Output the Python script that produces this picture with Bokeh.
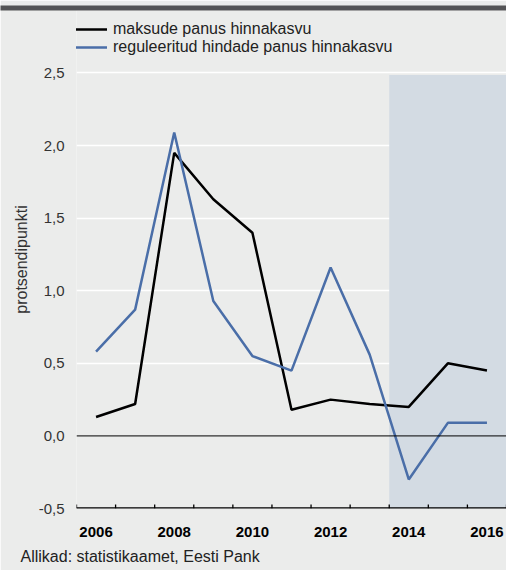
from bokeh.plotting import figure
from bokeh.models import (Range1d, FixedTicker, Legend, LegendItem, BoxAnnotation,
                          Span, Title, CustomJSTickFormatter)
from bokeh.embed import file_html
from bokeh.resources import INLINE

years = [2006, 2007, 2008, 2009, 2010, 2011, 2012, 2013, 2014, 2015, 2016]
tax_contribution = [0.13, 0.22, 1.95, 1.63, 1.40, 0.18, 0.25, 0.22, 0.20, 0.50, 0.45]
regulated_contribution = [0.58, 0.87, 2.09, 0.93, 0.55, 0.45, 1.16, 0.56, -0.30, 0.09, 0.09]
year_labels = ["2006", "2008", "2010", "2012", "2014", "2016"]
y_ticks = [-0.5, 0.0, 0.5, 1.0, 1.5, 2.0, 2.5]
forecast_start = 2013.5

series_names = ["maksude panus hinnakasvu", "reguleeritud hindade panus hinnakasvu"]
y_title = "protsendipunkti"
source_text = "Allikad: statistikaamet, Eesti Pank"

FONT = "Liberation Sans"
BG = "#ebeceb"
BLUE = "#4a6ea8"
DARK = "#545456"
W, H = 506, 570
BAND_H = 10
FRAME_LEFT = 76
FRAME_TOP, TOP_TICK, FRAME_BOTTOM = BAND_H, 73, 512
px_per_unit = (FRAME_BOTTOM - TOP_TICK) / (y_ticks[-1] - y_ticks[0])
y_end = y_ticks[-1] + (TOP_TICK - FRAME_TOP) / px_per_unit
tick_len = 4 / px_per_unit

p = figure(width=W, height=H, output_backend="svg", toolbar_location=None,
           x_range=Range1d(years[0] - 0.5, years[-1] + 0.5),
           y_range=Range1d(y_ticks[0], y_end),
           min_border_left=FRAME_LEFT, min_border_right=0,
           min_border_top=FRAME_TOP, min_border_bottom=H - FRAME_BOTTOM)
p.background_fill_color = BG
p.border_fill_color = BG
p.outline_line_color = None

# dark header band across the top of the canvas
try:
    band = Title(text="\u00a0", align="left", offset=-FRAME_LEFT, standoff=0,
                 text_font_size="1px", text_color=DARK,
                 background_fill_color=DARK, border_line_color=None,
                 padding=(4, W, 4, 0))
    p.add_layout(band, "above")
except Exception:
    p.add_layout(BoxAnnotation(left=years[0] - 0.5, right=years[-1] + 0.5,
                               top=y_end, bottom=y_end - BAND_H / px_per_unit,
                               fill_color=DARK, fill_alpha=1.0, line_color=None))

p.add_layout(BoxAnnotation(left=forecast_start, right=years[-1] + 0.5,
                           bottom=y_ticks[0], top=y_ticks[-1] - 0.014,
                           fill_color="#d3dbe3", fill_alpha=1.0,
                           line_color=None, level="underlay"))

p.xgrid.grid_line_color = None
p.ygrid.ticker = FixedTicker(ticks=[t for t in y_ticks if t not in (0.0, -0.5)])
p.ygrid.grid_line_color = "white"
p.ygrid.grid_line_width = 1.3
p.ygrid.level = "underlay"
p.add_layout(Span(location=0.0, dimension="width", line_color="black", line_width=1))
p.add_layout(Span(location=y_ticks[0], dimension="width", line_color="black", line_width=2.4))

# category boundary ticks on the bottom axis, pointing up
boundaries = [years[0] - 0.5] + [y + 0.5 for y in years]
p.segment(x0=boundaries, y0=[y_ticks[0]] * len(boundaries),
          x1=boundaries, y1=[y_ticks[0] + tick_len] * len(boundaries),
          line_color="black", line_width=1.3)

r1 = p.line(years, tax_contribution, line_color="black", line_width=2.5)
r2 = p.line(years, regulated_contribution, line_color=BLUE, line_width=2.5)

label_ticks = [int(s) for s in year_labels]
p.xaxis.ticker = FixedTicker(ticks=label_ticks)
p.xaxis.major_tick_line_color = None
p.xaxis.major_tick_in = 0
p.xaxis.major_tick_out = 0
p.xaxis.minor_tick_line_color = None
p.xaxis.minor_tick_in = 0
p.xaxis.minor_tick_out = 0
p.xaxis.axis_line_color = None
p.xaxis.major_label_text_font = FONT
p.xaxis.major_label_text_font_style = "bold"
p.xaxis.major_label_text_font_size = "15px"
p.xaxis.major_label_text_color = "black"
p.xaxis.major_label_standoff = 18

p.yaxis.ticker = FixedTicker(ticks=y_ticks)
p.yaxis.formatter = CustomJSTickFormatter(code="return tick.toFixed(1).replace('.', ',');")
p.yaxis.axis_line_color = None
p.yaxis.major_tick_line_color = None
p.yaxis.major_tick_in = 0
p.yaxis.major_tick_out = 0
p.yaxis.minor_tick_line_color = None
p.yaxis.minor_tick_in = 0
p.yaxis.minor_tick_out = 0
p.yaxis.major_label_standoff = 12
p.yaxis.major_label_text_font = FONT
p.yaxis.major_label_text_font_size = "15px"
p.yaxis.major_label_text_color = "#333333"
p.yaxis.axis_label = y_title
p.yaxis.axis_label_text_font = FONT
p.yaxis.axis_label_text_font_style = "normal"
p.yaxis.axis_label_text_font_size = "16px"
p.yaxis.axis_label_text_color = "#333333"
p.yaxis.axis_label_standoff = 6

legend = Legend(items=[LegendItem(label=series_names[0], renderers=[r1]),
                       LegendItem(label=series_names[1], renderers=[r2])],
                location=(-4, FRAME_BOTTOM - 60), orientation="vertical",
                background_fill_alpha=0, border_line_color=None,
                label_text_font=FONT, label_text_font_size="16px",
                label_text_color="#222222",
                glyph_width=35, glyph_height=16, label_height=16,
                label_standoff=6, spacing=0, padding=0, margin=0)
p.add_layout(legend, "center")

p.add_layout(Title(text=source_text, align="left", offset=20 - FRAME_LEFT, standoff=12,
                   text_font=FONT, text_font_size="16px", text_font_style="normal",
                   text_color="#222222"), "below")

with open("out.html", "w") as f:
    f.write(file_html(p, INLINE))
